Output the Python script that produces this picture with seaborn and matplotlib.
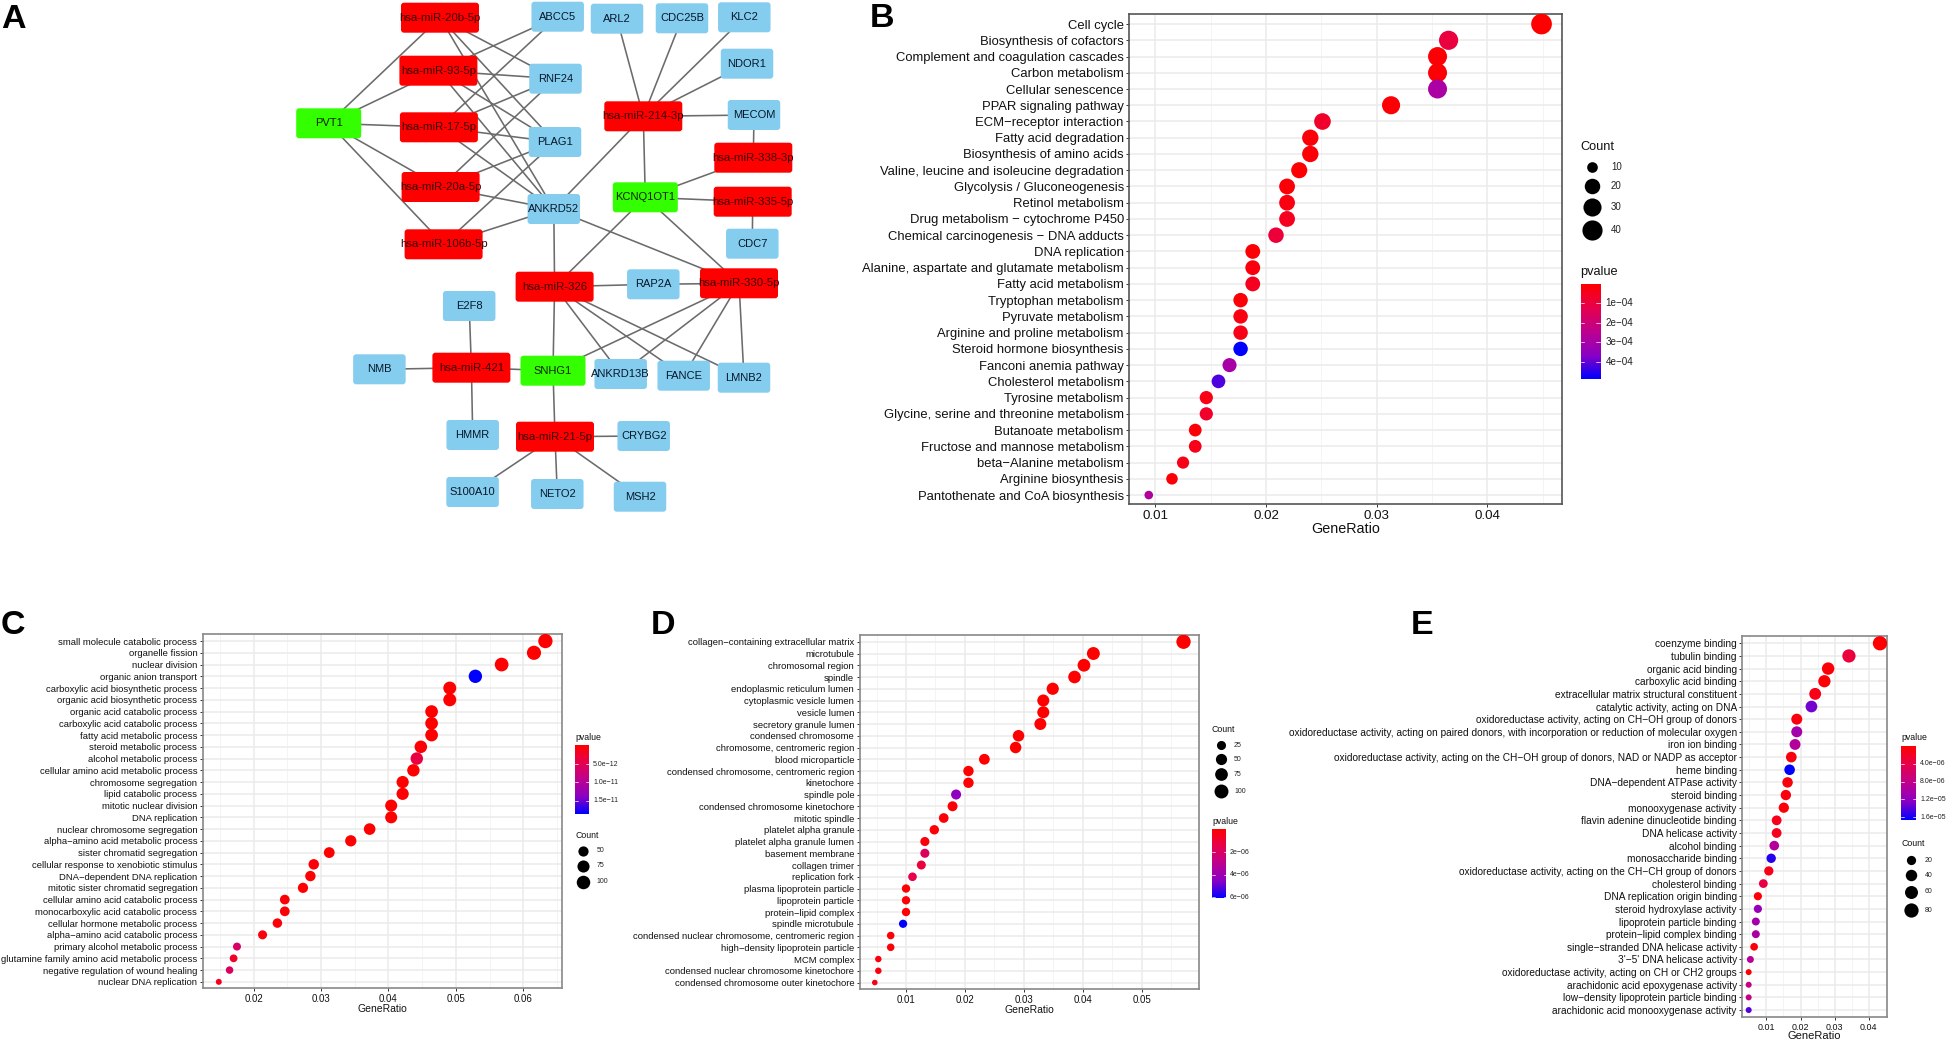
import numpy as np
import pandas as pd
import matplotlib
matplotlib.use('Agg')
import matplotlib.pyplot as plt
import seaborn as sns
from matplotlib.colors import LinearSegmentedColormap, Normalize
from matplotlib.patches import FancyBboxPatch
from matplotlib.ticker import MultipleLocator

W, H = 1950, 1042

sns.set_theme(style='white')
plt.rcParams['font.family'] = ['Liberation Sans', 'DejaVu Sans']

# panel B, KEGG
kegg_terms = ['Cell cycle', 'Biosynthesis of cofactors', 'Complement and coagulation cascades', 'Carbon metabolism',
              'Cellular senescence', 'PPAR signaling pathway', 'ECM−receptor interaction', 'Fatty acid degradation',
              'Biosynthesis of amino acids', 'Valine, leucine and isoleucine degradation', 'Glycolysis / Gluconeogenesis',
              'Retinol metabolism', 'Drug metabolism − cytochrome P450', 'Chemical carcinogenesis − DNA adducts',
              'DNA replication', 'Alanine, aspartate and glutamate metabolism', 'Fatty acid metabolism',
              'Tryptophan metabolism', 'Pyruvate metabolism', 'Arginine and proline metabolism',
              'Steroid hormone biosynthesis', 'Fanconi anemia pathway', 'Cholesterol metabolism', 'Tyrosine metabolism',
              'Glycine, serine and threonine metabolism', 'Butanoate metabolism', 'Fructose and mannose metabolism',
              'beta−Alanine metabolism', 'Arginine biosynthesis', 'Pantothenate and CoA biosynthesis']
kegg_ratio = [.0449, .0365, .0355, .0355, .0355, .0313, .0251, .0240, .0240, .0230, .0219, .0219, .0219, .0209, .0188,
              .0188, .0188, .0177, .0177, .0177, .0177, .0167, .0157, .0146, .0146, .0136, .0136, .0125, .0115, .0094]
kegg_count = [43, 35, 34, 34, 34, 30, 24, 23, 23, 22, 21, 21, 21, 20, 18, 18, 18, 17, 17, 17, 17, 16, 15, 14, 14, 13, 13, 12, 11, 9]
kegg_p = [1e-7, 1.0e-4, 1e-5, 1e-5, 2.9e-4, 1e-5, 7e-5, 1.5e-5, 1.5e-5, 5e-6, 1.5e-5, 2.5e-5, 5e-5, 9e-5, 1e-5,
          2e-5, 5e-5, 1.5e-5, 3e-5, 4e-5, 4.9e-4, 3.0e-4, 4.2e-4, 3.5e-5, 7e-5, 1.5e-5, 4e-5, 4e-5, 1.5e-5, 2.8e-4]

# panel C, GO BP
bp_terms = ['small molecule catabolic process', 'organelle fission', 'nuclear division', 'organic anion transport',
            'carboxylic acid biosynthetic process', 'organic acid biosynthetic process', 'organic acid catabolic process',
            'carboxylic acid catabolic process', 'fatty acid metabolic process', 'steroid metabolic process',
            'alcohol metabolic process', 'cellular amino acid metabolic process', 'chromosome segregation',
            'lipid catabolic process', 'mitotic nuclear division', 'DNA replication', 'nuclear chromosome segregation',
            'alpha−amino acid metabolic process', 'sister chromatid segregation', 'cellular response to xenobiotic stimulus',
            'DNA−dependent DNA replication', 'mitotic sister chromatid segregation', 'cellular amino acid catabolic process',
            'monocarboxylic acid catabolic process', 'cellular hormone metabolic process', 'alpha−amino acid catabolic process',
            'primary alcohol metabolic process', 'glutamine family amino acid metabolic process',
            'negative regulation of wound healing', 'nuclear DNA replication']
bp_ratio = [.0633, .0616, .0568, .0529, .0491, .0491, .0464, .0464, .0464, .0448, .0442, .0437, .0421, .0421, .0404,
            .0404, .0372, .0344, .0312, .0289, .0284, .0273, .0246, .0246, .0235, .0213, .0175, .0170, .0164, .0148]
bp_count = [116, 113, 104, 97, 90, 90, 85, 85, 85, 82, 81, 80, 77, 77, 74, 74, 68, 63, 57, 53, 52, 50, 45, 45, 43, 39, 32, 31, 30, 27]
bp_p = [1e-14, 1e-13, 1e-14, 1.86e-11, 1e-13, 1e-13, 1e-13, 1e-13, 1e-13, 3e-13, 4e-12, 1e-13, 1e-14, 2e-13, 1e-14,
        1e-14, 1e-14, 1e-13, 1e-14, 3e-13, 1e-14, 1e-14, 3e-13, 3e-13, 6e-13, 8e-13, 6.5e-12, 2.5e-12, 6e-12, 2e-12]

# panel D, GO CC
cc_terms = ['collagen−containing extracellular matrix', 'microtubule', 'chromosomal region', 'spindle',
            'endoplasmic reticulum lumen', 'cytoplasmic vesicle lumen', 'vesicle lumen', 'secretory granule lumen',
            'condensed chromosome', 'chromosome, centromeric region', 'blood microparticle',
            'condensed chromosome, centromeric region', 'kinetochore', 'spindle pole', 'condensed chromosome kinetochore',
            'mitotic spindle', 'platelet alpha granule', 'platelet alpha granule lumen', 'basement membrane',
            'collagen trimer', 'replication fork', 'plasma lipoprotein particle', 'lipoprotein particle',
            'protein−lipid complex', 'spindle microtubule', 'condensed nuclear chromosome, centromeric region',
            'high−density lipoprotein particle', 'MCM complex', 'condensed nuclear chromosome kinetochore',
            'condensed chromosome outer kinetochore']
cc_ratio = [.0571, .0418, .0402, .0386, .0349, .0333, .0333, .0328, .0291, .0286, .0233, .0206, .0206, .0185, .0179,
            .0164, .0148, .0132, .0132, .0126, .0111, .0100, .0100, .0100, .0095, .0074, .0074, .0053, .0053, .0047]
cc_count = [108, 79, 76, 73, 66, 63, 63, 62, 55, 54, 44, 39, 39, 35, 34, 31, 28, 25, 25, 24, 21, 19, 19, 19, 18, 14, 14, 10, 10, 9]
cc_p = [1e-9, 1e-8, 1e-8, 1e-8, 2e-8, 1e-8, 1e-8, 1e-8, 1e-8, 1e-8, 1e-8, 5e-8, 5e-8, 4.4e-6, 1e-7, 1e-7, 1e-7, 2.5e-7,
        1.9e-6, 1.2e-6, 1.5e-6, 1e-7, 1e-7, 1e-7, 6.1e-6, 1e-7, 1e-7, 3e-7, 3e-7, 5e-7]

# panel E, GO MF
mf_terms = ['coenzyme binding', 'tubulin binding', 'organic acid binding', 'carboxylic acid binding',
            'extracellular matrix structural constituent', 'catalytic activity, acting on DNA',
            'oxidoreductase activity, acting on CH−OH group of donors',
            'oxidoreductase activity, acting on paired donors, with incorporation or reduction of molecular oxygen',
            'iron ion binding', 'oxidoreductase activity, acting on the CH−OH group of donors, NAD or NADP as acceptor',
            'heme binding', 'DNA−dependent ATPase activity', 'steroid binding', 'monooxygenase activity',
            'flavin adenine dinucleotide binding', 'DNA helicase activity', 'alcohol binding', 'monosaccharide binding',
            'oxidoreductase activity, acting on the CH−CH group of donors', 'cholesterol binding',
            'DNA replication origin binding', 'steroid hydroxylase activity', 'lipoprotein particle binding',
            'protein−lipid complex binding', 'single−stranded DNA helicase activity', "3'−5' DNA helicase activity",
            'oxidoreductase activity, acting on CH or CH2 groups', 'arachidonic acid epoxygenase activity',
            'low−density lipoprotein particle binding', 'arachidonic acid monooxygenase activity']
mf_ratio = [.0433, .0342, .0281, .0270, .0243, .0232, .0189, .0189, .0184, .0173, .0168, .0162, .0157, .0151, .0130,
            .0130, .0123, .0114, .0107, .0091, .0075, .0075, .0069, .0069, .0064, .0053, .0048, .0048, .0048, .0048]
mf_count = [81, 64, 52, 50, 45, 43, 35, 35, 34, 32, 31, 30, 29, 28, 24, 24, 23, 21, 20, 17, 14, 14, 13, 13, 12, 10, 9, 9, 9, 9]
mf_p = [3e-7, 3.4e-6, 5e-7, 5e-7, 1.5e-6, 1.32e-5, 1e-6, 1.05e-5, 9.2e-6, 1e-6, 1.66e-5, 1e-6, 1e-6, 7e-7, 1.7e-6, 1.7e-6,
        9.2e-6, 1.55e-5, 1.5e-6, 4e-6, 7e-7, 1.15e-5, 1.05e-5, 1e-5, 7e-7, 9e-6, 5e-7, 7.5e-6, 7.5e-6, 1.4e-5]

# panel A, network
mirnas = ['hsa-miR-20b-5p', 'hsa-miR-93-5p', 'hsa-miR-17-5p', 'hsa-miR-20a-5p', 'hsa-miR-106b-5p', 'hsa-miR-214-3p',
          'hsa-miR-338-3p', 'hsa-miR-335-5p', 'hsa-miR-326', 'hsa-miR-330-5p', 'hsa-miR-421', 'hsa-miR-21-5p']
lncrnas = ['PVT1', 'KCNQ1OT1', 'SNHG1']
mrnas = ['ABCC5', 'RNF24', 'PLAG1', 'ANKRD52', 'ARL2', 'CDC25B', 'KLC2', 'NDOR1', 'MECOM', 'CDC7', 'RAP2A', 'ANKRD13B',
         'FANCE', 'LMNB2', 'E2F8', 'NMB', 'HMMR', 'CRYBG2', 'S100A10', 'NETO2', 'MSH2']
edges = [('PVT1', 'hsa-miR-20b-5p'), ('PVT1', 'hsa-miR-93-5p'), ('PVT1', 'hsa-miR-17-5p'), ('PVT1', 'hsa-miR-20a-5p'),
         ('PVT1', 'hsa-miR-106b-5p'), ('hsa-miR-20b-5p', 'RNF24'), ('hsa-miR-20b-5p', 'PLAG1'), ('hsa-miR-20b-5p', 'ANKRD52'),
         ('hsa-miR-93-5p', 'ABCC5'), ('hsa-miR-93-5p', 'RNF24'), ('hsa-miR-93-5p', 'PLAG1'), ('hsa-miR-93-5p', 'ANKRD52'),
         ('hsa-miR-17-5p', 'ABCC5'), ('hsa-miR-17-5p', 'RNF24'), ('hsa-miR-17-5p', 'PLAG1'), ('hsa-miR-17-5p', 'ANKRD52'),
         ('hsa-miR-20a-5p', 'RNF24'), ('hsa-miR-20a-5p', 'PLAG1'), ('hsa-miR-20a-5p', 'ANKRD52'),
         ('hsa-miR-106b-5p', 'PLAG1'), ('hsa-miR-106b-5p', 'ANKRD52'), ('ANKRD52', 'hsa-miR-214-3p'), ('ANKRD52', 'hsa-miR-326'),
         ('ANKRD52', 'hsa-miR-330-5p'), ('hsa-miR-214-3p', 'ARL2'), ('hsa-miR-214-3p', 'CDC25B'), ('hsa-miR-214-3p', 'KLC2'),
         ('hsa-miR-214-3p', 'NDOR1'), ('hsa-miR-214-3p', 'MECOM'), ('hsa-miR-214-3p', 'KCNQ1OT1'), ('MECOM', 'hsa-miR-338-3p'),
         ('KCNQ1OT1', 'hsa-miR-338-3p'), ('KCNQ1OT1', 'hsa-miR-335-5p'), ('KCNQ1OT1', 'hsa-miR-326'), ('KCNQ1OT1', 'hsa-miR-330-5p'),
         ('hsa-miR-335-5p', 'CDC7'), ('hsa-miR-326', 'RAP2A'), ('RAP2A', 'hsa-miR-330-5p'), ('hsa-miR-326', 'SNHG1'),
         ('hsa-miR-326', 'ANKRD13B'), ('hsa-miR-326', 'FANCE'), ('hsa-miR-326', 'LMNB2'), ('hsa-miR-330-5p', 'SNHG1'),
         ('hsa-miR-330-5p', 'ANKRD13B'), ('hsa-miR-330-5p', 'FANCE'), ('hsa-miR-330-5p', 'LMNB2'), ('SNHG1', 'hsa-miR-421'),
         ('SNHG1', 'hsa-miR-21-5p'), ('hsa-miR-421', 'E2F8'), ('hsa-miR-421', 'NMB'), ('hsa-miR-421', 'HMMR'),
         ('hsa-miR-21-5p', 'CRYBG2'), ('hsa-miR-21-5p', 'S100A10'), ('hsa-miR-21-5p', 'NETO2'), ('hsa-miR-21-5p', 'MSH2')]

# node layout, in figure pixels
layout = {'hsa-miR-20b-5p': (440, 17.7), 'ABCC5': (557.7, 16.7), 'ARL2': (617, 18.7), 'CDC25B': (682, 18.3), 'KLC2': (744.3, 17.3),
          'NDOR1': (747, 63.7), 'MECOM': (754, 115), 'hsa-miR-214-3p': (643.3, 116.3), 'hsa-miR-338-3p': (753.3, 157.7),
          'hsa-miR-335-5p': (752.7, 201.7), 'CDC7': (752.3, 243.7), 'KCNQ1OT1': (645.3, 197.3), 'hsa-miR-330-5p': (739, 283.3),
          'RAP2A': (653.3, 284.3), 'hsa-miR-326': (554.6, 286.7), 'ANKRD13B': (620.7, 374), 'FANCE': (683.7, 375.7),
          'LMNB2': (744, 377.7), 'SNHG1': (553, 370.7), 'hsa-miR-421': (471.4, 367.7), 'NMB': (379.4, 369.3), 'E2F8': (469.2, 306),
          'hsa-miR-21-5p': (555, 436.7), 'HMMR': (472.7, 435), 'CRYBG2': (643.7, 436), 'MSH2': (640, 496.7), 'NETO2': (557.3, 494),
          'S100A10': (472.6, 492), 'RNF24': (555.5, 78.7), 'PLAG1': (555, 142), 'ANKRD52': (553.8, 209), 'hsa-miR-93-5p': (438.4, 70.7),
          'hsa-miR-17-5p': (438.9, 127.3), 'hsa-miR-20a-5p': (440.6, 187), 'hsa-miR-106b-5p': (443.6, 244.3), 'PVT1': (328.7, 123.3)}

# same red to blue ramp as the ggplot gradient
cmap = LinearSegmentedColormap.from_list('pval', ['#FF0000', '#E6004D', '#BE008F', '#8A00C4', '#0000FF'])

fig = plt.figure(figsize=(W / 100, H / 100), dpi=100, facecolor='white')


def px_axes(x0, y0, x1, y1):
    return fig.add_axes([x0 / W, 1 - y1 / H, (x1 - x0) / W, (y1 - y0) / H])


def dot_area(c, cmin, cmax, dmin, dmax):
    # ggplot scale_size: diameter grows with sqrt of the rescaled count
    d = dmin + (dmax - dmin) * np.sqrt((c - cmin) / (cmax - cmin))
    return (d * 0.72) ** 2


def dotplot(box, terms, ratio, count, pval, plim, xlim, ticks, dlim, fs, border, labelpad):
    ax = px_axes(*box)
    df = pd.DataFrame({'term': terms, 'GeneRatio': ratio, 'Count': count, 'pvalue': pval})
    cmin, cmax = min(count), max(count)
    sizes = {c: dot_area(c, cmin, cmax, *dlim) for c in sorted(set(count))}
    sns.scatterplot(data=df, x='GeneRatio', y='term', size='Count', sizes=sizes, hue='pvalue', palette=cmap,
                    hue_norm=Normalize(*plim), linewidth=0, alpha=1, legend=False, ax=ax, zorder=3)
    ax.set_xlim(*xlim)
    ax.set_ylim(len(terms) - 1 + 0.55, -0.6)
    ax.set_xticks(ticks)
    ax.set_xticklabels(['%.2f' % t for t in ticks], fontsize=fs[1], color='#111111')
    ax.set_yticks(range(len(terms)))
    ax.set_yticklabels(terms, fontsize=fs[0], color='#111111')
    ax.xaxis.set_minor_locator(MultipleLocator(0.005))
    ax.grid(True, which='major', color='#ebebeb', lw=1.1, zorder=0)
    ax.grid(True, which='minor', axis='x', color='#f2f2f2', lw=0.6, zorder=0)
    ax.set_axisbelow(True)
    ax.tick_params(axis='both', which='major', length=2.5, width=0.7, color='#333333', pad=1.5, left=True, bottom=True)
    ax.tick_params(axis='x', which='minor', length=0)
    ax.set_ylabel('')
    ax.set_xlabel('GeneRatio', fontsize=fs[2], labelpad=labelpad, color='#111111')
    for s in ax.spines.values():
        s.set_visible(True)
        s.set_color(border)
        s.set_linewidth(1.2)
    return ax


dotplot((1129.4, 14.3, 1562, 504), kegg_terms, kegg_ratio, kegg_count, kegg_p, (0, 4.9e-4), (.00765, .04675),
        [.01, .02, .03, .04], (8.6, 20.7), (9.4, 9.6, 10.4), '#555555', 0.5)
dotplot((202.9, 634, 561.9, 988.3), bp_terms, bp_ratio, bp_count, bp_p, (0, 1.86e-11), (.01244, .06575),
        [.02, .03, .04, .05, .06], (6, 14.3), (6.8, 7, 7.5), '#888888', 0.2)
dotplot((859.7, 634.7, 1198.9, 989), cc_terms, cc_ratio, cc_count, cc_p, (0, 6.1e-6), (.00214, .05971),
        [.01, .02, .03, .04, .05], (5.6, 14.3), (6.8, 7, 7.5), '#888888', 0.2)
dotplot((1742.4, 635.7, 1886.8, 1017), mf_terms, mf_ratio, mf_count, mf_p, (2e-7, 1.66e-5), (.00296, .0453),
        [.01, .02, .03, .04], (6, 14.3), (7.3, 6.4, 8), '#888888', -0.3)

# everything else goes on a full figure overlay in pixel coordinates
ov = fig.add_axes([0, 0, 1, 1], facecolor='none')
ov.set_axis_off()

# network
for a, b in edges:
    (x0, y0), (x1, y1) = layout[a], layout[b]
    ov.plot([x0, x1], [y0, y1], color='#6b6b6b', lw=1.15, zorder=1, solid_capstyle='butt')


def node(name, w, color, tcolor, fs):
    x, y = layout[name]
    h = 30
    ov.add_patch(FancyBboxPatch((x - w / 2 + 2, y - h / 2 + 2), w - 4, h - 4, boxstyle='round,pad=2,rounding_size=3',
                                fc=color, ec='none', zorder=2))
    ov.text(x, y, name, ha='center', va='center', fontsize=fs, color=tcolor, zorder=3)


for n in mirnas:
    node(n, 78, '#FF0000', '#3a0000', 8.2)
for n in lncrnas:
    node(n, 65, '#33FF00', '#082200', 8)
for n in mrnas:
    node(n, 52.5, '#85CDEF', '#06182a', 8)

for letter, x, y in [('A', 1, 28), ('B', 870, 27), ('C', 1, 634), ('D', 651, 634), ('E', 1411, 634)]:
    ov.text(x, y, letter, fontsize=24.5, fontweight='bold', color='black', va='baseline', ha='left')


def size_legend(x, xdot, xlab, ytitle, ys, levels, count, dlim, fs):
    ov.text(x, ytitle, 'Count', fontsize=fs[0], va='center', color='#111111')
    for lv, y in zip(levels, ys):
        ov.scatter([xdot], [y], s=dot_area(lv, min(count), max(count), *dlim), c='black', linewidths=0)
        ov.text(xlab, y, str(lv), fontsize=fs[1], va='center', color='#222222')


def p_legend(x0, x1, y0, y1, xlab, ytitle, plim, ticks, labels, fs):
    ov.text(x0, ytitle, 'pvalue', fontsize=fs[0], va='center', color='#111111')
    ov.imshow(np.linspace(0, 1, 256)[:, None], cmap=cmap, extent=(x0, x1, y1, y0), aspect='auto', zorder=2)
    w = (x1 - x0) / 5
    for t, lab in zip(ticks, labels):
        y = y0 + (t - plim[0]) / (plim[1] - plim[0]) * (y1 - y0)
        ov.plot([x0, x0 + w], [y, y], color='white', lw=0.5, zorder=3)
        ov.plot([x1 - w, x1], [y, y], color='white', lw=0.5, zorder=3)
        ov.text(xlab, y, lab, fontsize=fs[1], va='center', color='#222222')


size_legend(1580.3, 1592.3, 1611, 146.7, [167.3, 186.3, 206.7, 229.7], [10, 20, 30, 40], kegg_count, (8.6, 20.7), (9.2, 7))
p_legend(1580.5, 1600, 284, 379, 1605.7, 272, (0, 4.9e-4), [1e-4, 2e-4, 3e-4, 4e-4],
         ['1e−04', '2e−04', '3e−04', '4e−04'], (9.2, 7.1))
p_legend(575, 588.8, 745.7, 814, 593, 737.3, (0, 1.86e-11), [5e-12, 1e-11, 1.5e-11],
         ['5.0e−12', '1.0e−11', '1.5e−11'], (6.3, 5))
size_legend(575, 583.3, 596.4, 835.7, [851, 865.7, 881.7], [50, 75, 100], bp_count, (6, 14.3), (6.3, 5))
size_legend(1212, 1221, 1234, 730, [745.3, 759.3, 774, 791.3], [25, 50, 75, 100], cc_count, (5.6, 14.3), (6.3, 5))
p_legend(1212.4, 1226.3, 830, 898.3, 1230, 821.7, (0, 6.1e-6), [2e-6, 4e-6, 6e-6], ['2e−06', '4e−06', '6e−06'], (6.3, 5))
p_legend(1901, 1916, 746.7, 820, 1920, 737.7, (2e-7, 1.66e-5), [4e-6, 8e-6, 1.2e-5, 1.6e-5],
         ['4.0e−06', '8.0e−06', '1.2e−05', '1.6e−05'], (6.3, 5))
size_legend(1901, 1910.8, 1925, 844, [860, 875.3, 891.7, 910], [20, 40, 60, 80], mf_count, (6, 14.3), (6.3, 5))

ov.set_xlim(0, W)
ov.set_ylim(H, 0)

fig.savefig('out.png', dpi=100)
